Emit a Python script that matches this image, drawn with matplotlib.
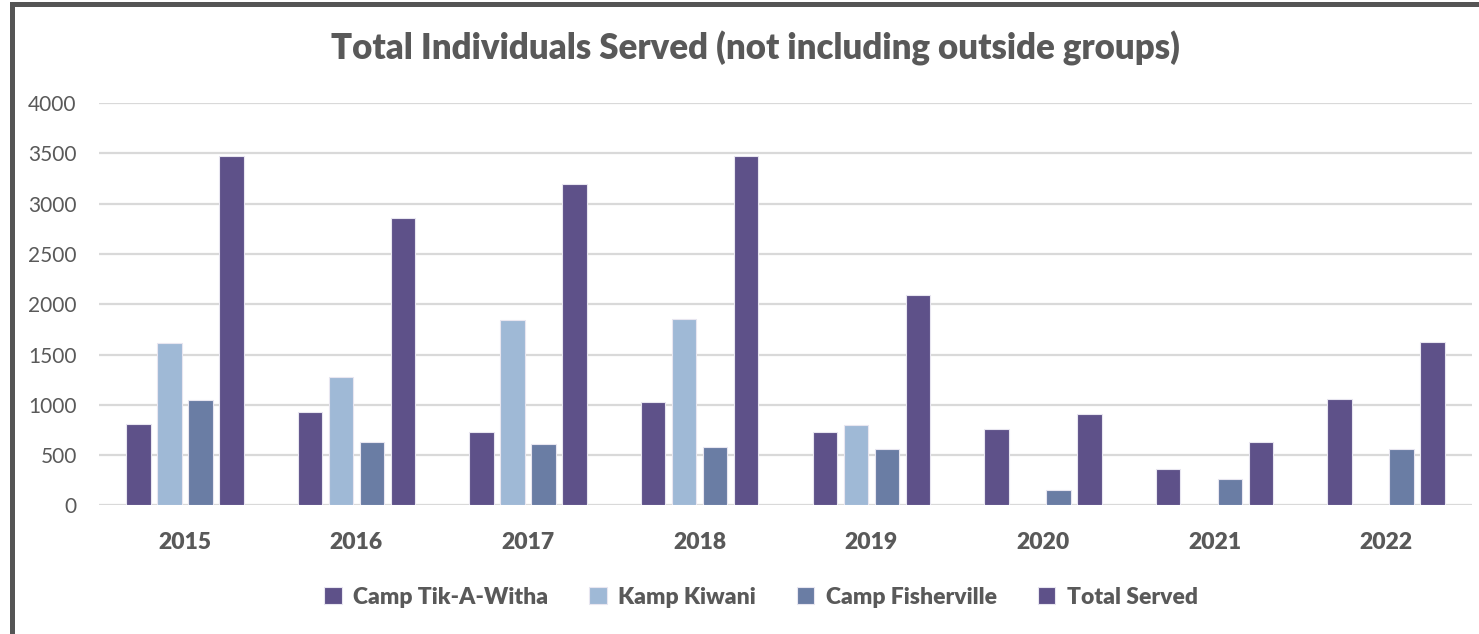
import numpy as np
import matplotlib.pyplot as plt
from matplotlib.patches import Rectangle

years = ["2015", "2016", "2017", "2018", "2019", "2020", "2021", "2022"]
tik_a_witha = [807, 929, 729, 1027, 729, 762, 367, 1055]
kamp_kiwani = [1614, 1277, 1841, 1851, 795, 0, 0, 0]
fisherville = [1047, 628, 616, 583, 563, 152, 261, 559]
total_served = [3471, 2855, 3198, 3473, 2092, 913, 631, 1628]

series = [
    ("Camp Tik-A-Witha", tik_a_witha, "#5e5189"),
    ("Kamp Kiwani", kamp_kiwani, "#9fb9d6"),
    ("Camp Fisherville", fisherville, "#6a7da4"),
    ("Total Served", total_served, "#5e5189"),
]

plt.rcParams["font.family"] = ["Lato", "DejaVu Sans"]
text_color = "#595959"

fig = plt.figure(figsize=(14.79, 6.34), dpi=100)
ax = fig.add_axes([0.0669, 0.2027, 0.9284, 0.6348])

x = np.arange(len(years))
step = 0.1806
width = 0.143
for i, (name, vals, color) in enumerate(series):
    ax.bar(x + (i - 1.5) * step, vals, width, color=color, label=name,
           edgecolor="#e8e6f0", linewidth=0.8, zorder=3)

ax.set_xlim(-0.5, len(years) - 0.5)
ax.set_ylim(0, 4000)
ax.set_yticks(range(0, 4001, 500))
ax.yaxis.grid(True, color="#d9d9d9", linewidth=1.6, zorder=0)
for s in ax.spines.values():
    s.set_visible(False)
ax.tick_params(axis="both", length=0)
ax.tick_params(axis="y", pad=16, labelsize=15, labelcolor=text_color)
ax.tick_params(axis="x", pad=19, labelsize=16.5, labelcolor=text_color)
ax.set_xticks(x)
ax.set_xticklabels(years, fontweight="heavy")

fig.text(0.5105, 1 - 48 / 634, "Total Individuals Served (not including outside groups)",
         ha="center", va="center", fontsize=25, fontweight="heavy", color=text_color)

leg = fig.legend(loc="center", bbox_to_anchor=(761 / 1479, 1 - 597 / 634), ncol=4,
                 frameon=False, handlelength=0.75, handleheight=0.75,
                 handletextpad=0.5, columnspacing=1.8,
                 prop={"size": 16.5, "weight": "heavy"})
for t in leg.get_texts():
    t.set_color(text_color)

# dark frame along the top and left edge
fig.add_artist(Rectangle((11.5 / 1479, -0.1), 1.2, 1.1 - 4 / 634,
                         transform=fig.transFigure, fill=False,
                         edgecolor="#555555", linewidth=3.6))

fig.savefig("out.png", dpi=100, facecolor="white")
